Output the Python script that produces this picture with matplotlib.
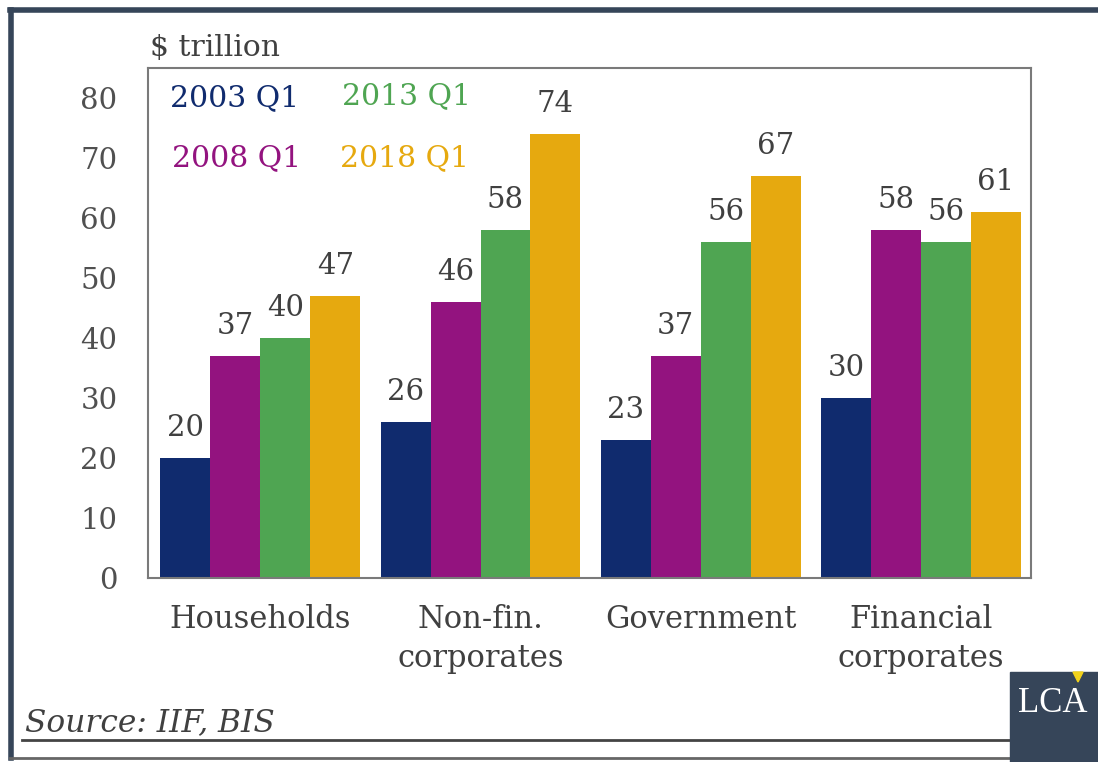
import matplotlib.pyplot as plt
import numpy as np
from matplotlib.lines import Line2D
from matplotlib.patches import Polygon, Rectangle

W, H = 1098, 762

categories = ["Households", "Non-fin.\ncorporates", "Government", "Financial\ncorporates"]
series = ["2003 Q1", "2008 Q1", "2013 Q1", "2018 Q1"]
values = {
    "2003 Q1": [20, 26, 23, 30],
    "2008 Q1": [37, 46, 37, 58],
    "2013 Q1": [40, 58, 56, 56],
    "2018 Q1": [47, 74, 67, 61],
}
colors = {
    "2003 Q1": "#102b6e",
    "2008 Q1": "#93137f",
    "2013 Q1": "#4fa552",
    "2018 Q1": "#e6a90f",
}
yticks = [0, 10, 20, 30, 40, 50, 60, 70, 80]

TEXT = "#404040"
FRAME = "#364559"


def px(x, y):
    # pixel position (from top-left) -> figure fraction
    return x / W, 1 - y / H


plt.rcParams["font.family"] = ["DejaVu Serif"]
fig = plt.figure(figsize=(W / 100, H / 100), dpi=100)
fig.patch.set_facecolor("white")

left, top = px(148, 68)
right, bottom = px(1031, 578)
ax = fig.add_axes([left, bottom, right - left, top - bottom])

x = np.arange(len(categories))
width = 0.227
for i, s in enumerate(series):
    pos = x + (i - 1.5) * width + 0.01
    ax.bar(pos, values[s], width, color=colors[s], linewidth=0)
    for xp, v in zip(pos, values[s]):
        ax.annotate(str(v), (xp, v), xytext=(0, 16), textcoords="offset points",
                    ha="center", va="baseline", fontsize=21, color=TEXT)

ax.set_xlim(-0.5, 3.51)
ax.set_ylim(0, 85)
ax.set_yticks(yticks)
ax.set_xticks(x + 0.01, categories)
ax.tick_params(axis="y", length=0, pad=22, labelsize=21, labelcolor="#505050")
ax.tick_params(axis="x", length=0, pad=19, labelsize=22, labelcolor=TEXT)
for lab in ax.get_xticklabels():
    lab.set_linespacing(1.32)
for sp in ax.spines.values():
    sp.set_color("#7a7a7a")
    sp.set_linewidth(1.5)

# legend as coloured text
legend_pos = {"2003 Q1": (170, 106), "2008 Q1": (172, 166),
              "2013 Q1": (342, 104), "2018 Q1": (340, 166)}
for s in series:
    fig.text(*px(*legend_pos[s]), s, color=colors[s], fontsize=21.5,
             ha="left", va="baseline")

fig.text(*px(150, 56), "$ trillion", color=TEXT, fontsize=21.5,
         ha="left", va="baseline")

fig.text(*px(25, 731), "Source: IIF, BIS", color=TEXT, fontsize=22.5,
         style="italic", ha="left", va="baseline")

# frame and rules
fig.add_artist(Line2D([10 / W, 1], [1 - 10 / H] * 2, color=FRAME, lw=4,
                      transform=fig.transFigure))
fig.add_artist(Line2D([10.5 / W] * 2, [1 - 10 / H, 1 - 758 / H], color=FRAME, lw=4,
                      transform=fig.transFigure))
fig.add_artist(Line2D([10 / W, 1], [1 - 758 / H] * 2, color="#666666", lw=2,
                      transform=fig.transFigure))
fig.add_artist(Line2D([22 / W, 1010 / W], [1 - 740 / H] * 2, color="#444444", lw=2,
                      transform=fig.transFigure))

# logo block
lx, ly = px(1010, 762)
fig.add_artist(Rectangle((lx, ly), 1 - lx, 90 / H, color=FRAME,
                         transform=fig.transFigure, zorder=5))
fig.text(*px(1018, 712), "LCA", color="white", fontsize=25, ha="left",
         va="baseline", zorder=6, family="Liberation Serif")
fig.add_artist(Polygon([px(1073, 672), px(1083, 672), px(1078, 682)],
                       closed=True, color="#f2d21b", transform=fig.transFigure,
                       zorder=7))

fig.savefig("out.png", dpi=100)
